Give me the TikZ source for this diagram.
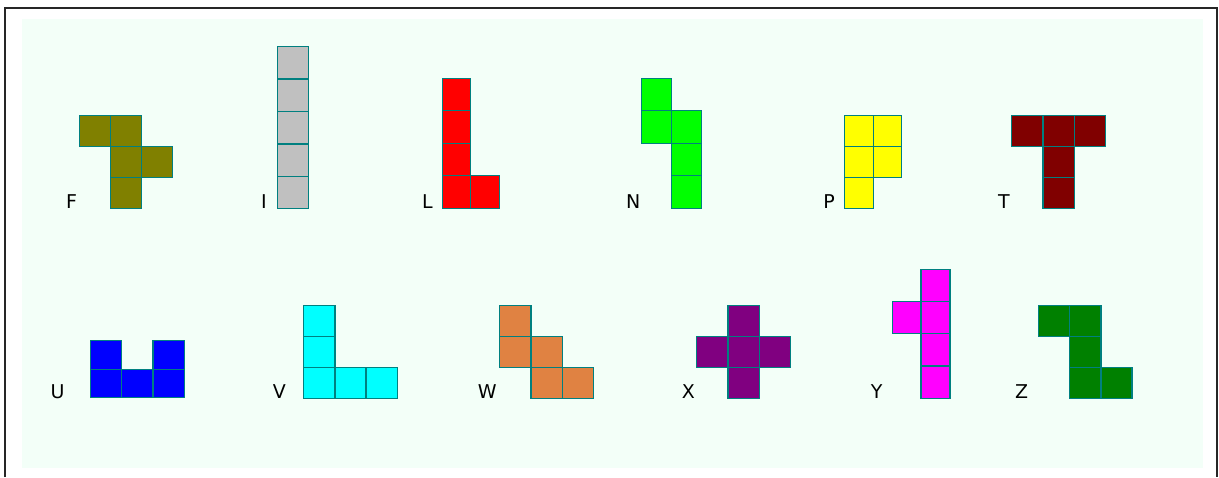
\documentclass[tikz,border=0pt]{standalone}
\usepackage{fontspec}
\setsansfont{DejaVu Sans}
\usetikzlibrary{positioning}

\definecolor{mint}{RGB}{243,255,248}
\definecolor{edgeteal}{RGB}{0,128,128}
\definecolor{pieceF}{RGB}{128,128,0}
\definecolor{pieceI}{RGB}{192,192,192}
\definecolor{pieceL}{RGB}{255,0,0}
\definecolor{pieceN}{RGB}{0,255,0}
\definecolor{pieceP}{RGB}{255,255,0}
\definecolor{pieceT}{RGB}{128,0,0}
\definecolor{pieceU}{RGB}{0,0,255}
\definecolor{pieceV}{RGB}{0,255,255}
\definecolor{pieceW}{RGB}{224,130,66}
\definecolor{pieceX}{RGB}{128,0,128}
\definecolor{pieceY}{RGB}{255,0,255}
\definecolor{pieceZ}{RGB}{0,128,0}

\begin{document}
\begin{tikzpicture}[
  x=1pt, y=-1pt,
  cell/.style={draw=edgeteal, line width=1.3pt},
  pieceat/.style n args={4}{shift={(#1,#2)}, xscale=#3, yscale=-#4},
  lbl/.style={anchor=base, inner sep=0pt, font=\sffamily\fontsize{19}{19}\selectfont}
]
\useasboundingbox (0,0) rectangle (1219,477);
\fill[mint] (22,19) rectangle (1203,468);
\draw[black!85, line width=1.5pt] (5,477) -- (5,8) -- (1217,8) -- (1217,477);

% top row
\begin{scope}[pieceat={79.3}{208.7}{31.1}{31}]
  \foreach \c/\r in {0/2,1/2,1/1,2/1,1/0} \draw[cell, fill=pieceF] (\c,\r) rectangle ++(1,1);
\end{scope}
\begin{scope}[pieceat={277.3}{208.7}{31}{32.4}]
  \foreach \r in {0,...,4} \draw[cell, fill=pieceI] (0,\r) rectangle ++(1,1);
\end{scope}
\begin{scope}[pieceat={442.3}{208.3}{28.5}{32.5}]
  \foreach \c/\r in {0/0,0/1,0/2,0/3,1/0} \draw[cell, fill=pieceL] (\c,\r) rectangle ++(1,1);
\end{scope}
\begin{scope}[pieceat={641.3}{208.3}{30}{32.5}]
  \foreach \c/\r in {0/3,0/2,1/2,1/1,1/0} \draw[cell, fill=pieceN] (\c,\r) rectangle ++(1,1);
\end{scope}
\begin{scope}[pieceat={844.7}{208.3}{28.5}{31}]
  \foreach \c/\r in {0/0,0/1,0/2,1/1,1/2} \draw[cell, fill=pieceP] (\c,\r) rectangle ++(1,1);
\end{scope}
\begin{scope}[pieceat={1011.7}{208.3}{31.3}{31}]
  \foreach \c/\r in {0/2,1/2,2/2,1/1,1/0} \draw[cell, fill=pieceT] (\c,\r) rectangle ++(1,1);
\end{scope}

% bottom row
\begin{scope}[pieceat={90.3}{397.7}{31.3}{28.5}]
  \foreach \c/\r in {0/0,1/0,2/0,0/1,2/1} \draw[cell, fill=pieceU] (\c,\r) rectangle ++(1,1);
\end{scope}
\begin{scope}[pieceat={303.7}{398.3}{31.2}{31}]
  \foreach \c/\r in {0/0,1/0,2/0,0/1,0/2} \draw[cell, fill=pieceV] (\c,\r) rectangle ++(1,1);
\end{scope}
\begin{scope}[pieceat={499.7}{398.3}{31.3}{30.9}]
  \foreach \c/\r in {0/2,0/1,1/1,1/0,2/0} \draw[cell, fill=pieceW] (\c,\r) rectangle ++(1,1);
\end{scope}
\begin{scope}[pieceat={696.7}{398.3}{31.3}{30.9}]
  \foreach \c/\r in {1/0,1/1,1/2,0/1,2/1} \draw[cell, fill=pieceX] (\c,\r) rectangle ++(1,1);
\end{scope}
\begin{scope}[pieceat={892.3}{398.3}{28.8}{32.25}]
  \foreach \c/\r in {1/0,1/1,1/2,1/3,0/2} \draw[cell, fill=pieceY] (\c,\r) rectangle ++(1,1);
\end{scope}
\begin{scope}[pieceat={1038.7}{398.3}{31.1}{31}]
  \foreach \c/\r in {0/2,1/2,1/1,1/0,2/0} \draw[cell, fill=pieceZ] (\c,\r) rectangle ++(1,1);
\end{scope}

% labels
\node[lbl] (labF) at (71.7,208.5) {F};
\node[lbl] (labI) at (264,208.5) {I};
\node[lbl] (labL) at (427.3,208.5) {L};
\node[lbl] (labN) at (633.3,208.5) {N};
\node[lbl] (labP) at (829,208.5) {P};
\node[lbl] (labT) at (1004,208.5) {T};
\node[lbl] (labU) at (57.7,398) {U};
\node[lbl] (labV) at (279.3,398) {V};
\node[lbl] (labW) at (487.3,398) {W};
\node[lbl] (labX) at (688.3,398) {X};
\node[lbl] (labY) at (876.7,398) {Y};
\node[lbl] (labZ) at (1021.7,398) {Z};
\end{tikzpicture}
\end{document}
